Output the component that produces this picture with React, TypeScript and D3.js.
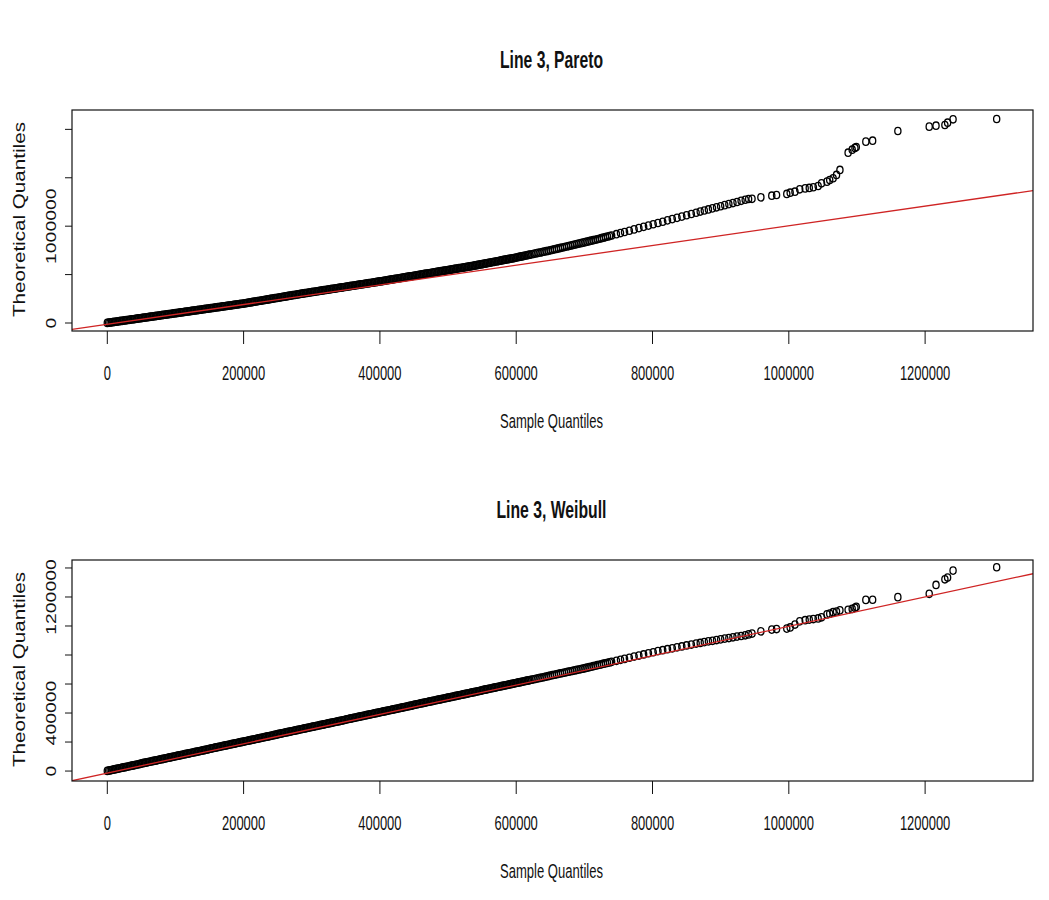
import React from 'react';
import * as d3 from 'd3';

// all quantiles in thousands
const sampleQ = [
  0, 2, 4, 6, 8, 10, 12, 14, 16, 18,
  20, 22, 24, 26, 28, 30, 32, 34, 36, 38,
  40, 42, 44, 46, 48, 50, 52, 54, 56, 58,
  60, 62, 64, 66, 68, 70, 72, 74, 76, 78,
  80, 82, 84, 86, 88, 90, 92, 94, 96, 98,
  100, 102, 104, 106, 108, 110, 112, 114, 116, 118,
  120, 122, 124, 126, 128, 130, 132, 134, 136, 138,
  140, 142, 144, 146, 148, 150, 152, 154, 156, 158,
  160, 162, 164, 166, 168, 170, 172, 174, 176, 178,
  180, 182, 184, 186, 188, 190, 192, 194, 196, 198,
  200, 202, 204, 206, 208, 210, 212, 214, 216, 218,
  220, 222, 224, 226, 228, 230, 232, 234, 236, 238,
  240, 242, 244, 246, 248, 250, 252, 254, 256, 258,
  260, 262, 264, 266, 268, 270, 272, 274, 276, 278,
  280, 282, 284, 286, 288, 290, 292, 294, 296, 298,
  300, 302, 304, 306, 308, 310, 312, 314, 316, 318,
  320, 322, 324, 326, 328, 330, 332, 334, 336, 338,
  340, 342, 344, 346, 348, 350, 352, 354, 356, 358,
  360, 362, 364, 366, 368, 370, 372, 374, 376, 378,
  380, 382, 384, 386, 388, 390, 392, 394, 396, 398,
  400, 402, 404, 406, 408, 410, 412, 414, 416, 418,
  420, 422, 424, 426, 428, 430, 432, 434, 436, 438,
  440, 442, 444, 446, 448, 450, 452, 454, 456, 458,
  460, 462, 464, 466, 468, 470, 472, 474, 476, 478,
  480, 482, 484, 486, 488, 490, 492, 494, 496, 498,
  500, 502, 504, 506, 508, 510, 512, 514, 516, 518,
  520, 522, 524, 526, 528, 530, 532, 534, 536, 538,
  540, 542, 544, 546, 548, 550, 552, 554, 556, 558,
  560, 562, 564, 566, 568, 570, 572, 574, 576, 578,
  580, 582, 584, 586, 588, 590, 592, 594, 596, 598,
  600, 602, 604, 606, 608, 610, 612, 614, 616, 618,
  620, 623, 626, 629, 632, 635, 638, 641, 644, 647,
  650, 653, 656, 659, 662, 665, 668, 671, 674, 677,
  680, 683, 686, 689, 692, 695, 698, 701, 704, 707,
  710, 713, 716, 719, 722, 725, 728, 731, 734, 737,
  740,
  747, 753, 759, 766, 773, 780, 787, 794, 801, 808,
  815, 822, 829, 836, 843, 850, 857, 864, 870, 876,
  882, 888, 894, 900, 906, 912, 918, 924, 930, 936,
  941, 946, 959, 975, 982, 997, 1002, 1009, 1016, 1024,
  1030, 1036, 1043, 1048, 1056, 1060, 1065, 1070, 1075, 1087,
  1093, 1097, 1099, 1113, 1123, 1160, 1206, 1216, 1229, 1233,
  1241, 1305,
];

const paretoQ = [
  1, 3, 5, 7, 9, 11, 13, 15, 17, 19,
  21, 23, 25, 27, 29, 31, 33, 35, 37, 39,
  41, 43, 45, 47, 49, 51, 53, 55, 57, 59,
  61, 63, 65, 67, 69, 71, 73, 75, 77, 79,
  81, 83, 85, 87, 89, 91, 93, 95, 97, 99,
  101, 103, 105, 107, 109, 111, 113, 115, 117, 119,
  121, 123, 125, 127, 129, 131, 133, 135, 137, 139,
  141, 143, 145, 147, 149, 151, 153, 155, 157, 159,
  161, 163, 165, 167, 169, 171, 173, 175, 177, 179,
  181, 183, 185, 187, 189, 191, 193, 195, 197, 199,
  201, 203, 206, 208, 211, 213, 215, 218, 220, 222,
  225, 227, 230, 232, 234, 237, 239, 241, 244, 246,
  249, 251, 253, 256, 258, 260, 263, 265, 268, 270,
  272, 275, 277, 280, 282, 284, 287, 289, 291, 294,
  296, 299, 301, 303, 306, 308, 310, 312, 314, 317,
  319, 321, 323, 325, 328, 330, 332, 334, 336, 339,
  341, 343, 345, 347, 350, 352, 354, 356, 358, 361,
  363, 365, 367, 369, 372, 374, 376, 378, 380, 383,
  385, 387, 389, 391, 394, 396, 398, 400, 402, 405,
  407, 409, 411, 413, 416, 418, 420, 422, 424, 427,
  429, 431, 433, 436, 438, 441, 443, 445, 448, 450,
  452, 455, 457, 459, 462, 464, 467, 469, 471, 474,
  476, 478, 481, 483, 485, 488, 490, 492, 495, 497,
  500, 502, 504, 507, 509, 511, 514, 516, 518, 521,
  523, 526, 528, 530, 533, 535, 537, 540, 542, 544,
  547, 549, 551, 554, 556, 559, 561, 563, 566, 568,
  570, 573, 575, 577, 580, 582, 584, 587, 589, 592,
  595, 597, 600, 603, 605, 608, 611, 613, 616, 619,
  622, 624, 627, 630, 632, 635, 638, 640, 643, 646,
  649, 651, 654, 657, 659, 662, 665, 667, 670, 673,
  676, 679, 682, 685, 688, 691, 694, 697, 700, 703,
  706, 710, 715, 719, 724, 728, 733, 737, 742, 746,
  751, 756, 761, 765, 770, 775, 780, 785, 790, 795,
  800, 805, 810, 815, 820, 825, 830, 835, 840, 845,
  850, 855, 860, 865, 870, 876, 881, 887, 893, 898,
  904,
  917, 929, 940, 953, 967, 980, 993, 1006, 1020, 1033,
  1046, 1060, 1073, 1086, 1099, 1113, 1126, 1139, 1151, 1162,
  1173, 1184, 1195, 1206, 1217, 1228, 1239, 1250, 1262, 1273,
  1281, 1283, 1298, 1315, 1322, 1333, 1346, 1356, 1381, 1390,
  1395, 1402, 1415, 1443, 1460, 1477, 1495, 1529, 1581, 1759,
  1790, 1808, 1818, 1873, 1883, 1983, 2028, 2038, 2045, 2069,
  2104, 2107,
];

const weibullQ = [
  1, 3, 5, 7, 9, 11, 13, 15, 17, 19,
  21, 23, 25, 27, 29, 31, 33, 35, 37, 39,
  41, 43, 45, 47, 49, 52, 54, 56, 58, 60,
  62, 64, 66, 68, 70, 72, 74, 76, 78, 80,
  82, 84, 86, 88, 90, 92, 94, 96, 98, 100,
  102, 104, 106, 108, 110, 112, 114, 116, 118, 120,
  122, 124, 126, 128, 130, 132, 134, 136, 138, 140,
  142, 144, 146, 148, 150, 153, 155, 157, 159, 161,
  163, 165, 167, 169, 171, 173, 175, 177, 179, 181,
  183, 185, 187, 189, 191, 193, 195, 197, 199, 201,
  203, 205, 207, 209, 211, 213, 215, 217, 219, 221,
  223, 225, 227, 229, 231, 233, 235, 237, 239, 241,
  243, 245, 247, 249, 251, 254, 256, 258, 260, 262,
  264, 266, 268, 270, 272, 274, 276, 278, 280, 282,
  284, 286, 288, 290, 292, 294, 296, 298, 300, 302,
  304, 306, 308, 310, 312, 314, 316, 318, 320, 322,
  324, 326, 328, 330, 332, 334, 336, 338, 340, 342,
  344, 346, 348, 350, 352, 355, 357, 359, 361, 363,
  365, 367, 369, 371, 373, 375, 377, 379, 381, 383,
  385, 387, 389, 391, 393, 395, 397, 399, 401, 403,
  405, 407, 409, 411, 413, 415, 417, 419, 421, 423,
  425, 427, 429, 431, 433, 435, 437, 439, 441, 443,
  445, 447, 449, 451, 453, 456, 458, 460, 462, 464,
  466, 468, 470, 472, 474, 476, 478, 480, 482, 484,
  486, 488, 490, 492, 494, 496, 498, 500, 502, 504,
  506, 508, 510, 512, 514, 516, 518, 520, 522, 524,
  526, 528, 530, 532, 534, 536, 538, 540, 542, 544,
  546, 548, 550, 552, 554, 557, 559, 561, 563, 565,
  567, 569, 571, 573, 575, 577, 579, 581, 583, 585,
  587, 589, 591, 593, 595, 597, 599, 601, 603, 605,
  607, 609, 611, 613, 615, 617, 619, 621, 623, 625,
  627, 630, 633, 636, 639, 642, 645, 648, 651, 654,
  658, 661, 664, 667, 670, 673, 676, 679, 682, 685,
  688, 691, 694, 697, 700, 703, 706, 709, 713, 716,
  719, 723, 726, 730, 733, 736, 740, 743, 746, 749,
  753,
  760, 767, 773, 781, 789, 796, 804, 812, 819, 827,
  833, 840, 846, 853, 859, 866, 872, 879, 883, 889,
  894, 898, 903, 908, 913, 917, 922, 927, 931, 936,
  942, 948, 963, 975, 979, 982, 990, 1010, 1032, 1040,
  1044, 1048, 1052, 1060, 1080, 1085, 1095, 1100, 1108, 1112,
  1118, 1125, 1132, 1180, 1181, 1199, 1222, 1283, 1322, 1334,
  1382, 1405,
];

const xTicks = [0, 200, 400, 600, 800, 1000, 1200];
const xTickLabels = ['0', '200000', '400000', '600000', '800000', '1000000', '1200000'];
const paretoTicks = [0, 500, 1000, 1500, 2000];
const paretoTickLabels = ['0', '', '1000000', '', ''];
const weibullTicks = [0, 200, 400, 600, 800, 1000, 1200, 1400];
const weibullTickLabels = ['0', '', '400000', '', '', '', '1200000', ''];

// qqline fits: [slope, intercept (thousands)]
const paretoLine = [1.016, -12.5];
const weibullLine = [1.012, -14.2];

const W = 1049, H = 900;
const plotLeft = 72, plotRight = 1033, plotH = 221;
const narrow = "'Liberation Sans Narrow', 'Arial Narrow', 'Liberation Sans', Arial, sans-serif";
const sans = "'Liberation Sans', Arial, sans-serif";
const ink = '#111';

const x = d3.scaleLinear().domain([-51.8, 1358.3]).range([plotLeft, plotRight]);

// horizontal text, stretched vertically like the source image
const HText = ({cx, base, len, size, bold = false, children}) => (
    <text x={cx - len / 2} y={0} textLength={len} lengthAdjust="spacingAndGlyphs"
          transform={`translate(0,${base}) scale(1,1.3)`}
          fontFamily={narrow} fontSize={size} fontWeight={bold ? 'bold' : 'normal'} fill={ink}>
        {children}
    </text>
);

// rotated text reading bottom to top
const VText = ({bx, cy, len, size, children}) => (
    <text x={-len / 2} y={0} textLength={len} lengthAdjust="spacingAndGlyphs"
          transform={`translate(${bx},${cy}) rotate(-90)`}
          fontFamily={sans} fontSize={size} fill={ink}>
        {children}
    </text>
);

const Panel = ({id, top, title, titleLen, values, yDomain, ticks, labels, fit}) => {
    const bottom = top + plotH;
    const y = d3.scaleLinear().domain(yDomain).range([bottom, top]);
    const [x0, x1] = x.domain();
    const [slope, intercept] = fit;
    const linePath = d3.line()([
        [x(x0), y(intercept + slope * x0)],
        [x(x1), y(intercept + slope * x1)],
    ]);
    const cy = (top + bottom) / 2;

    return (
        <g>
            <defs>
                <clipPath id={id}>
                    <rect x={plotLeft} y={top} width={plotRight - plotLeft} height={plotH}/>
                </clipPath>
            </defs>

            <HText cx={551.5} base={top - 41.7} len={titleLen} size={18} bold>{title}</HText>

            {/* points */}
            <g fill="none" stroke="#000" strokeWidth={1.3}>
                {sampleQ.map((s, i) => (
                    <ellipse key={i} cx={x(s)} cy={y(values[i])} rx={3.1} ry={3.7}/>
                ))}
            </g>

            <path d={linePath} stroke="#cf2424" strokeWidth={1.3} fill="none" clipPath={`url(#${id})`}/>

            <rect x={plotLeft} y={top} width={plotRight - plotLeft} height={plotH}
                  fill="none" stroke={ink} strokeWidth={1.2}/>

            {/* x axis */}
            {xTicks.map((t, i) => (
                <g key={t}>
                    <line x1={x(t)} x2={x(t)} y1={bottom} y2={bottom + 13} stroke={ink}/>
                    <HText cx={x(t)} base={bottom + 49} len={xTickLabels[i].length * 7.2} size={16}>
                        {xTickLabels[i]}
                    </HText>
                </g>
            ))}
            <HText cx={551.5} base={bottom + 97} len={103} size={15}>Sample Quantiles</HText>

            {/* y axis */}
            {ticks.map((t, i) => (
                <g key={t}>
                    <line x1={plotLeft - 7} x2={plotLeft} y1={y(t)} y2={y(t)} stroke={ink}/>
                    {labels[i] !== '' &&
                        <VText bx={56} cy={y(t)} len={labels[i].length * 10.8} size={15}>{labels[i]}</VText>}
                </g>
            ))}
            <VText bx={25} cy={cy - 1} len={195} size={16.3}>Theoretical Quantiles</VText>
        </g>
    );
};

export default function App() {
    return (
        <svg width={W} height={H} style={{position: 'absolute', left: 0, top: 0, background: '#fff'}}>
            <rect width={W} height={H} fill="#fff"/>
            <Panel id="clipPareto" top={110} title="Line 3, Pareto" titleLen={103}
                   values={paretoQ} yDomain={[-82.6, 2200]} ticks={paretoTicks}
                   labels={paretoTickLabels} fit={paretoLine}/>
            <Panel id="clipWeibull" top={560} title="Line 3, Weibull" titleLen={110}
                   values={weibullQ} yDomain={[-68.6, 1455]} ticks={weibullTicks}
                   labels={weibullTickLabels} fit={weibullLine}/>
        </svg>
    );
}
